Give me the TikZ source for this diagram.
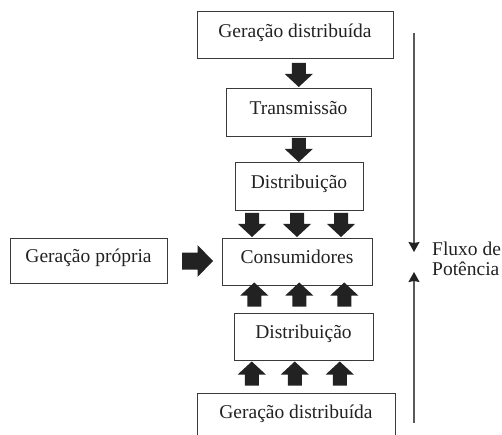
\documentclass[tikz,border=0pt]{standalone}
\usepackage{fontspec}
\setmainfont{Liberation Serif}
\usetikzlibrary{calc,arrows.meta}
\definecolor{ink}{HTML}{222222}
\definecolor{boxline}{HTML}{3A3A3A}
\definecolor{flowline}{HTML}{5A5A5A}
\tikzset{
  x=1pt, y=-1pt,
  box/.style={draw=boxline, line width=1pt, fill=white, text=ink, inner sep=0pt,
    text height=12pt, text depth=8pt,
    font=\fontsize{19.5}{20}\selectfont},
  lbl/.style={text=ink, inner sep=0pt, font=\fontsize{19.5}{20}\selectfont},
  blk/.pic={\fill[ink] (-7,-12) -- (7,-12) -- (7,-1) -- (14,-1) -- (0,12) -- (-14,-1) -- (-7,-1) -- cycle;},
  blkbig/.pic={\fill[ink] (-8.5,-15.5) -- (8.5,-15.5) -- (8.5,0) -- (16,0) -- (0,15.5) -- (-16,0) -- (-8.5,0) -- cycle;},
  flow/.style={draw=flowline, line width=1.2pt, -{Stealth[length=10pt,width=11pt,inset=1pt,fill=ink,color=ink]}}
}
\begin{document}
\begin{tikzpicture}
\useasboundingbox (0,0) rectangle (502,435);
\clip (0,0) rectangle (502,435);
\fill[white] (0,0) rectangle (502,435);

\node[box, minimum width=196pt, minimum height=47pt] (gd1) at (295,35.5) {Geração distribuída};
\node[box, minimum width=145pt, minimum height=48pt] (tr) at (298.5,113) {Transmissão};
\node[box, minimum width=128pt, minimum height=48pt] (di1) at (299,187) {Distribuição};
\node[box, minimum width=150pt, minimum height=47pt] (co) at (297,261.5) {Consumidores};
\node[box, minimum width=157pt, minimum height=45pt] (gp) at (88.5,260.5) {Geração própria};
\node[box, minimum width=139pt, minimum height=47pt] (di2) at (303.5,336.5) {Distribuição};
\node[box, minimum width=198pt, minimum height=46pt] (gd2) at (296,416) {Geração distribuída};

% block arrows
\coordinate (m0) at ($(gd1.south)!0.5!(tr.north)$);
\coordinate (m1) at ($(tr.south)!0.5!(di1.north)$);
\coordinate (m2) at ($(di1.south)!0.5!(co.north)$);
\coordinate (m3) at ($(co.south)!0.5!(di2.north)$);
\coordinate (m4) at ($(di2.south)!0.5!(gd2.north)$);
\coordinate (mh) at ($(gp.east)!0.5!(co.west)$);

\pic at ($(m0)+(2,1)$) {blk};
\pic at (m1) {blk};
\pic at ($(m2)+(-46,0.5)$) {blk};
\pic at ($(m2)+(-1,0.5)$) {blk};
\pic at ($(m2)+(43,0.5)$) {blk};
\pic[rotate=180] at ($(m3)+(-46,-4.5)$) {blk};
\pic[rotate=180] at ($(m3)+(-1,-4.5)$) {blk};
\pic[rotate=180] at ($(m3)+(44,-4.5)$) {blk};
\pic[rotate=180] at ($(m4)+(-48,-3)$) {blk};
\pic[rotate=180] at ($(m4)+(-5,-3)$) {blk};
\pic[rotate=180] at ($(m4)+(40,-3)$) {blk};
\pic[rotate=90] at ($(mh)+(3,0)$) {blkbig};

% power flow
\coordinate (dtop) at (414,33);
\coordinate (dtip) at (414,252);
\coordinate (ubot) at (414,423);
\coordinate (utip) at (414,272);
\draw[flow] (dtop) -- (dtip);
\draw[flow] (ubot) -- (utip);
\node[lbl, anchor=base west] (fl1) at (432,255) {Fluxo de};
\node[lbl, anchor=base west] (fl2) at (432,275) {Potência};
\end{tikzpicture}
\end{document}
